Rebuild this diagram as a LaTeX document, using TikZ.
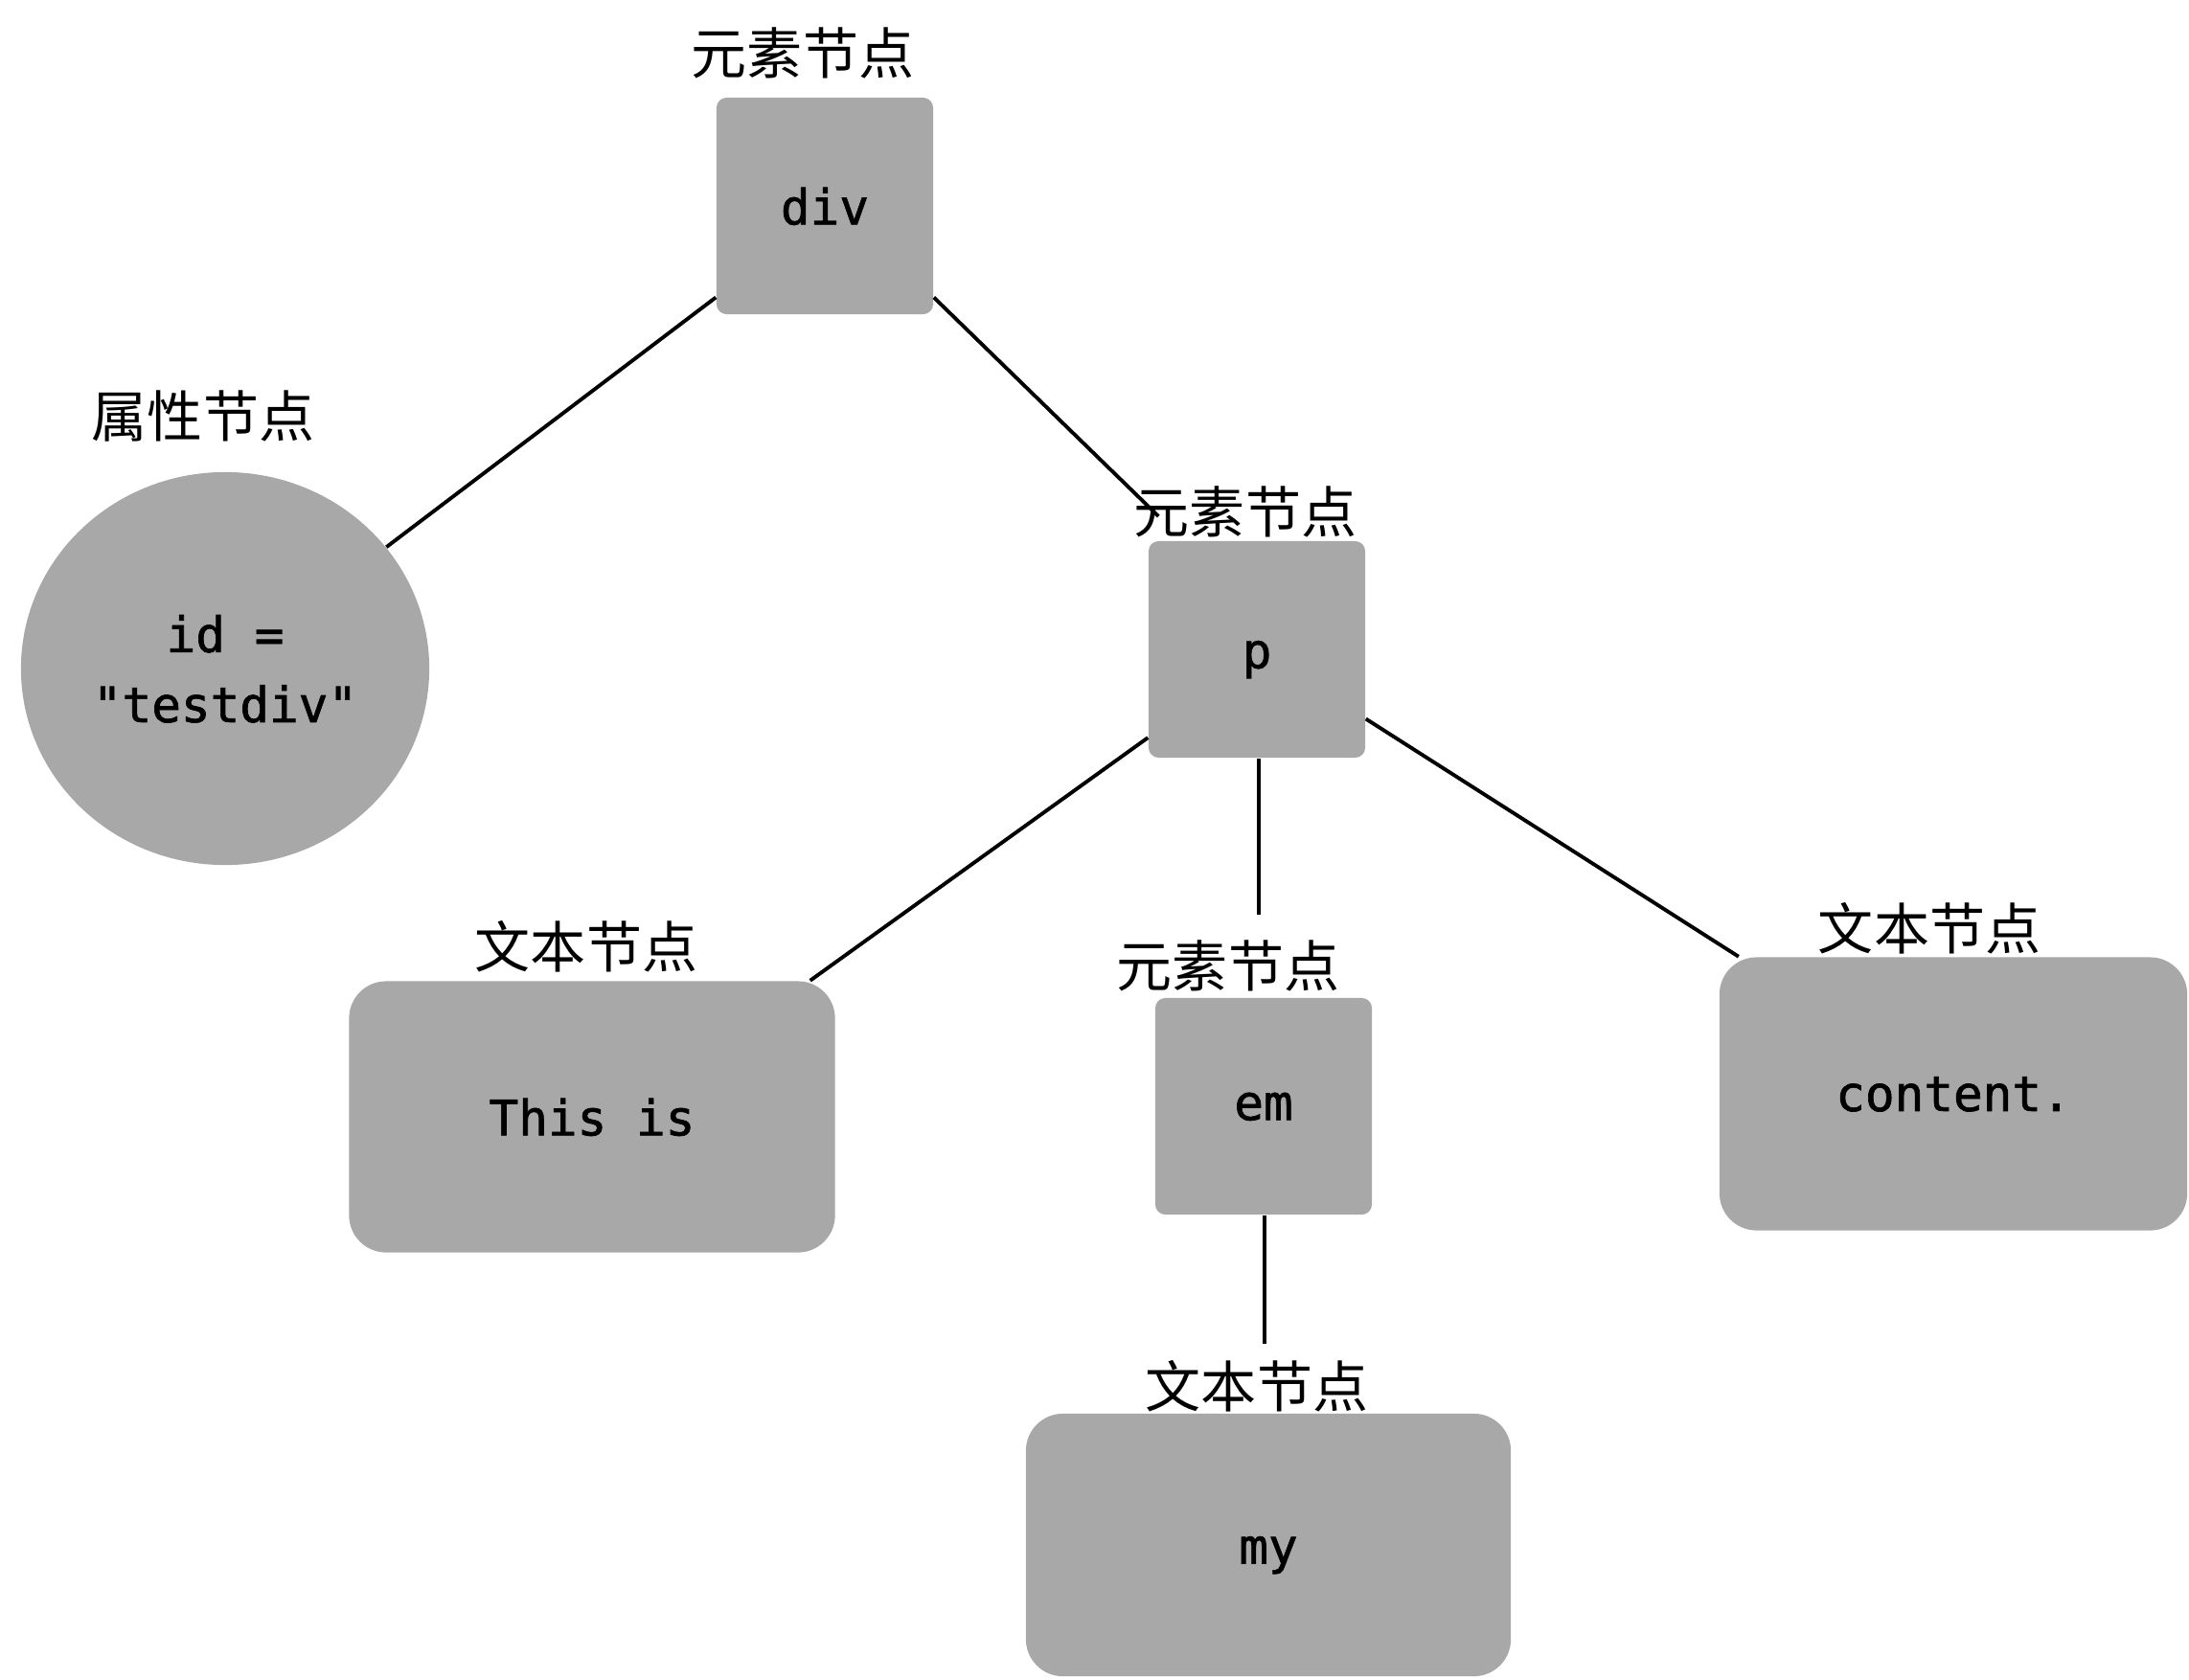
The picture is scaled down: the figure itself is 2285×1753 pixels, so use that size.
\documentclass[tikz,border=0pt]{standalone}
\usepackage{fontspec}
\newfontfamily\cjk{Noto Sans CJK SC}
\newfontfamily\monof[FakeBold=1.3]{DejaVu Sans Mono}
\usetikzlibrary{shapes.geometric}
\definecolor{nodegray}{gray}{0.66}
\begin{document}
\begin{tikzpicture}[x=0.01cm,y=-0.01cm,
  lab/.style={font=\cjk\fontsize{16.5pt}{18pt}\selectfont, inner sep=0pt},
  codetext/.style={font=\monof\fontsize{14.5pt}{20.8pt}\selectfont, text depth=0pt},
  elem/.style={codetext, fill=nodegray, rounded corners=3pt, minimum width=2.26cm, minimum height=2.26cm, inner sep=0pt},
  txtbox/.style={codetext, fill=nodegray, rounded corners=11pt, inner sep=0pt},
  attrnode/.style={codetext, ellipse, fill=nodegray, align=center, inner sep=0pt},
  conn/.style={line width=1.1pt, black}]
\useasboundingbox (0,0) rectangle (2285,1753);
% element nodes
\node[elem] (div) at (861,215) {div};
\node[lab] (divlab) at (838,55) {元素节点};
\node[elem] (p) at (1312,678) {\raisebox{-3pt}{p}};
\node[lab] (plab) at (1300,534) {元素节点};
\node[elem] (em) at (1319,1155) {em};
\node[lab] (emlab) at (1282,1008) {元素节点};
% attribute node
\node[attrnode, minimum width=4.26cm, minimum height=4.1cm] (attr) at (235,698) {id =\\"testdiv"};
\node[lab] (attrlab) at (212,434) {属性节点};
% text nodes
\node[txtbox, minimum width=5.07cm, minimum height=2.83cm] (this) at (618,1166) {This is};
\node[lab] (thislab) at (612,988) {文本节点};
\node[txtbox, minimum width=4.88cm, minimum height=2.85cm] (content) at (2039,1142) {content.};
\node[lab] (contentlab) at (2014,969) {文本节点};
\node[txtbox, minimum width=5.06cm, minimum height=2.74cm] (my) at (1324,1613) {\raisebox{-3pt}{my}};
\node[lab] (mylab) at (1312,1447) {文本节点};
% free ends
\coordinate (pend) at (1314,955);
\coordinate (emend) at (1320,1403);
% connectors
\draw[conn] (div.220) -- (attr.37);
\draw[conn] (div.-40) -- ([xshift=0.26cm,yshift=-0.05cm]plab.west);
\draw[conn] (p.219) -- (this.32);
\draw[conn] (p.south -| pend) -- (pend);
\draw[conn] (p) -- (content);
\draw[conn] (em.south -| emend) -- (emend);
\end{tikzpicture}
\end{document}
